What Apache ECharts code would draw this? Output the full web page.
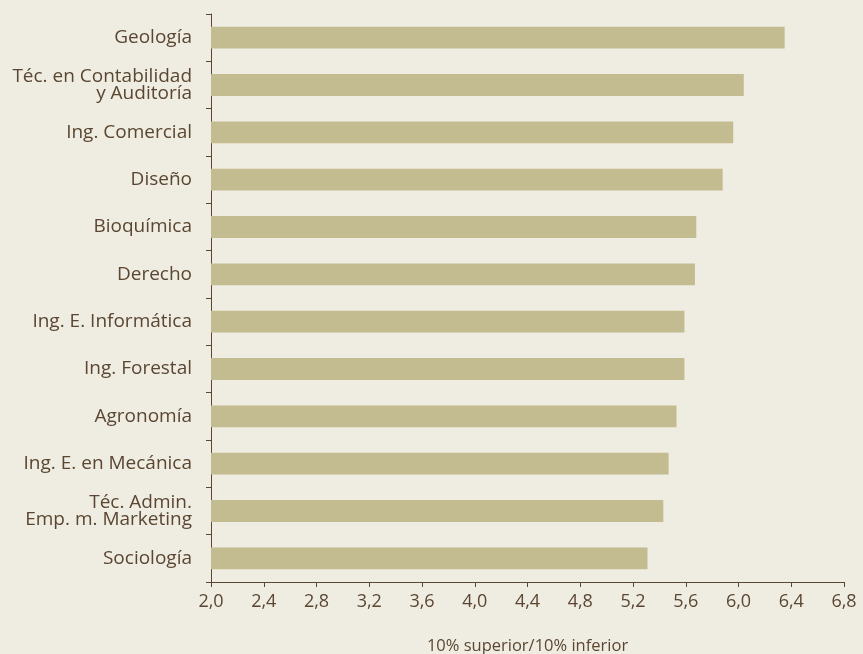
<!DOCTYPE html>
<html>
<head>
<meta charset="utf-8">
<style>
  html, body { margin: 0; padding: 0; background: #efede1; }
  #chart { width: 863px; height: 654px; }
</style>
<script src="https://cdn.jsdelivr.net/npm/echarts@6/dist/echarts.min.js"></script>
</head>
<body>
<div id="chart"></div>
<script>
// carreras, de arriba hacia abajo
var categories = [
  'Geología',
  'Téc. en Contabilidad\ny Auditoría',
  'Ing. Comercial',
  'Diseño',
  'Bioquímica',
  'Derecho',
  'Ing. E. Informática',
  'Ing. Forestal',
  'Agronomía',
  'Ing. E. en Mecánica',
  'Téc. Admin.\nEmp. m. Marketing',
  'Sociología'
]
var ratios = [6.35, 6.04, 5.96, 5.88, 5.68, 5.67, 5.59, 5.59, 5.53, 5.47, 5.43, 5.31]
var axisName = '10% superior/10% inferior'

var textColor = '#5a4632'

var chart = echarts.init(document.getElementById('chart'))
chart.setOption({
  backgroundColor: '#efede1',
  textStyle: { fontFamily: 'Open Sans' },
  grid: {
    left: 211,
    right: 19,
    top: 14,
    bottom: 72,
    outerBoundsMode: 'none'
  },
  xAxis: {
    type: 'value',
    min: 2.0,
    max: 6.8,
    interval: 0.4,
    name: axisName,
    nameLocation: 'middle',
    nameGap: 56,
    nameTextStyle: { color: textColor, fontSize: 16.5 },
    axisLine: { show: true, lineStyle: { color: textColor, width: 1 } },
    axisTick: { show: true, length: 5, lineStyle: { color: textColor } },
    axisLabel: {
      color: textColor,
      fontSize: 18,
      margin: 11,
      formatter: function (v) { return v.toFixed(1).replace('.', ',') }
    },
    splitLine: { show: false }
  },
  yAxis: {
    type: 'category',
    inverse: true,
    data: categories,
    axisLine: { show: true, lineStyle: { color: textColor, width: 1 } },
    axisTick: { show: true, length: 5, lineStyle: { color: textColor } },
    axisLabel: {
      color: textColor,
      fontSize: 19,
      lineHeight: 17,
      margin: 19
    }
  },
  series: [{
    type: 'bar',
    data: ratios,
    barWidth: '46%',
    itemStyle: { color: '#c4bc91' },
    silent: true
  }]
})
</script>
</body>
</html>
